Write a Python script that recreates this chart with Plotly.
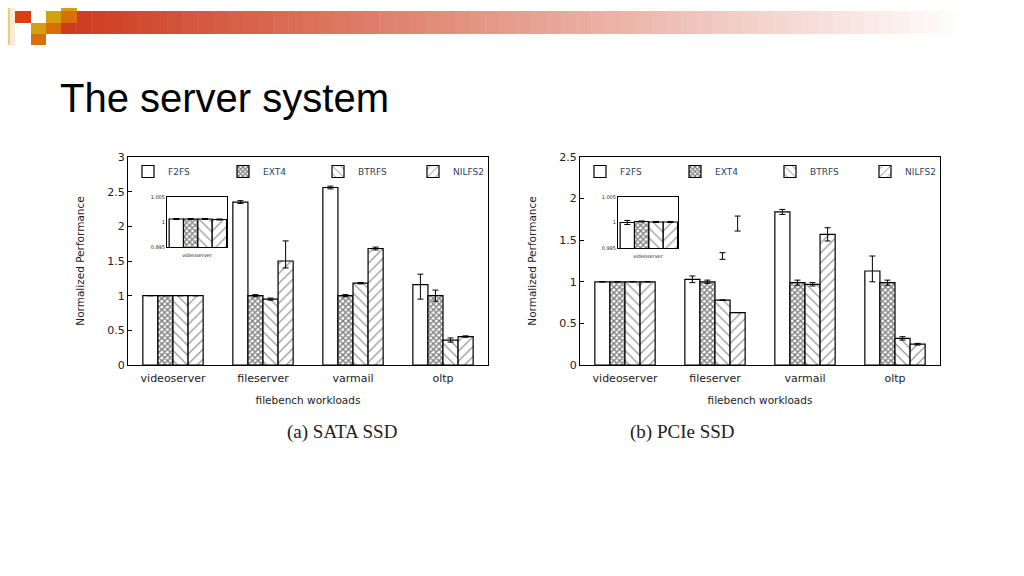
import plotly.graph_objects as go

systems = ["F2FS", "EXT4", "BTRFS", "NILFS2"]
workloads = ["videoserver", "fileserver", "varmail", "oltp"]

# SATA SSD
sata_vals = [[1.0, 2.35, 2.56, 1.16], [1.0, 1.0, 1.0, 1.0], [1.0, 0.95, 1.18, 0.36], [1.0, 1.50, 1.68, 0.41]]
sata_err_p = [[0, 0.02, 0.02, 0.15], [0, 0.015, 0.015, 0.08], [0, 0.015, 0.01, 0.03], [0, 0.29, 0.02, 0.01]]
sata_err_m = [[0, 0.02, 0.02, 0.21], [0, 0.015, 0.015, 0.08], [0, 0.015, 0.01, 0.03], [0, 0.10, 0.02, 0.01]]
# PCIe SSD
pcie_vals = [[1.0, 1.03, 1.84, 1.13], [1.0, 1.0, 0.99, 0.99], [1.0, 0.78, 0.97, 0.32], [1.0, 0.63, 1.57, 0.25]]
pcie_err_p = [[0, 0.04, 0.03, 0.18], [0, 0.02, 0.03, 0.03], [0, 0, 0.02, 0.02], [0, 0, 0.08, 0.01]]
pcie_err_m = [[0, 0.04, 0.03, 0.13], [0, 0.02, 0.03, 0.03], [0, 0, 0.02, 0.02], [0, 0, 0.08, 0.01]]
# floating error bars on PCIe fileserver (BTRFS, NILFS2)
pcie_float_sys = [2, 3]
pcie_float_val = [1.31, 1.70]
pcie_float_err = [0.04, 0.09]
# insets (videoserver zoom)
sata_inset = [1.0006, 1.0006, 1.0006, 1.0005]
sata_inset_err = [0.0001, 0.0001, 0.0001, 0.0001]
pcie_inset = [1.0, 1.0002, 1.0001, 1.0001]
pcie_inset_err = [0.0004, 0.0001, 0.0001, 0.0001]

patterns = ["", "x", "\\", "/"]
W = 0.1675
offs = [-2 * W + k * W for k in range(4)]

OFF = 8
FW, FH = 1024 - OFF, 576 - OFF
def px(x):
    return (x - OFF) / FW
def py(y):
    return 1 - (y - OFF) / FH

fig = go.Figure()

def bars(vals, ep, em, xa, ya, legend, show, x=None):
    for k, s in enumerate(systems):
        fig.add_trace(go.Bar(
            x=x if x is not None else list(range(len(vals[k]))), y=vals[k], name=s,
            width=W, offset=offs[k], xaxis=xa, yaxis=ya, legend=legend, showlegend=show,
            marker=dict(color="white", line=dict(color="black", width=1.2),
                        pattern=dict(shape=patterns[k], fgcolor="black", bgcolor="white",
                                     size=4 if k == 1 else 7, solidity=0.6 if k == 1 else 0.15)),
            error_y=dict(type="data", symmetric=False, array=ep[k], arrayminus=em[k],
                         color="black", thickness=1, width=3),
        ))

bars(sata_vals, sata_err_p, sata_err_m, "x", "y", "legend", True)
bars(pcie_vals, pcie_err_p, pcie_err_m, "x2", "y2", "legend2", True)
bars([[v] for v in sata_inset], [[e] for e in sata_inset_err], [[e] for e in sata_inset_err], "x3", "y3", "legend", False, x=[0])
bars([[v] for v in pcie_inset], [[e] for e in pcie_inset_err], [[e] for e in pcie_inset_err], "x4", "y4", "legend", False, x=[0])

fig.add_trace(go.Scatter(
    x=[1 + offs[k] + W / 2 for k in pcie_float_sys], y=pcie_float_val, mode="markers",
    marker=dict(size=1, color="rgba(0,0,0,0)"), showlegend=False, xaxis="x2", yaxis="y2",
    error_y=dict(type="data", array=pcie_float_err, color="black", thickness=1, width=3)))

ax = dict(showline=True, mirror=True, linecolor="black", linewidth=1, ticks="inside",
          tickcolor="black", ticklen=4, showgrid=False, zeroline=False, automargin=False,
          tickfont=dict(size=11, family="DejaVu Sans", color="#222"))
fx = dict(size=10.5, family="DejaVu Sans", color="#222")
fs = dict(size=5, family="DejaVu Sans", color="#222")

def yd(top, bot):
    return [py(bot), py(top)]

fig.update_layout(
    width=FW, height=FH, margin=dict(l=0, r=0, t=0, b=0, autoexpand=False),
    paper_bgcolor="white", plot_bgcolor="white", barmode="overlay",
    xaxis=dict(ax, anchor="y", domain=[px(128), px(488)], range=[-0.5, 3.5], tickvals=[0, 1, 2, 3], ticktext=workloads,
               title=dict(text="filebench workloads", font=fx, standoff=12), ticks="outside", ticklen=3, tickcolor="white"),
    yaxis=dict(ax, anchor="x", domain=yd(157, 365), range=[0, 3], dtick=0.5,
               title=dict(text="Normalized Performance", font=fx, standoff=20)),
    xaxis2=dict(ax, anchor="y2", domain=[px(580), px(940)], range=[-0.5, 3.5], tickvals=[0, 1, 2, 3], ticktext=workloads,
                title=dict(text="filebench workloads", font=fx, standoff=12), ticks="outside", ticklen=3, tickcolor="white"),
    yaxis2=dict(ax, anchor="x2", domain=yd(157, 365), range=[0, 2.5], dtick=0.5,
                title=dict(text="Normalized Performance", font=fx, standoff=20)),
    xaxis3=dict(ax, anchor="y3", domain=[px(167), px(227)], range=[-0.36, 0.34], showticklabels=False, ticks="",
                title=dict(text="videoserver", font=fs, standoff=6)),
    yaxis3=dict(ax, anchor="x3", domain=yd(197, 247), range=[0.995, 1.005], tickvals=[0.995, 1, 1.005],
                ticktext=["0.995", "1", "1.005"], tickfont=fs, ticks=""),
    xaxis4=dict(ax, anchor="y4", domain=[px(618), px(678)], range=[-0.36, 0.34], showticklabels=False, ticks="",
                title=dict(text="videoserver", font=fs, standoff=6)),
    yaxis4=dict(ax, anchor="x4", domain=yd(197, 248), range=[0.995, 1.005], tickvals=[0.995, 1, 1.005],
                ticktext=["0.995", "1", "1.005"], tickfont=fs, ticks=""),
    legend=dict(orientation="h", x=px(128), y=py(157), xanchor="left", yanchor="top",
                bgcolor="rgba(0,0,0,0)", font=dict(size=9, family="DejaVu Sans"),
                entrywidth=50, itemwidth=30, tracegroupgap=0),
    legend2=dict(orientation="h", x=px(580), y=py(157), xanchor="left", yanchor="top",
                 bgcolor="rgba(0,0,0,0)", font=dict(size=9, family="DejaVu Sans"),
                 entrywidth=50, itemwidth=30, tracegroupgap=0),
)

n = 60
x_start, x_end = 61, 970
step = (x_end - x_start) / n
for i in range(n):
    t = i / (n - 1)
    r = int(206 + (255 - 206) * t); g = int(60 + (255 - 60) * t); b = int(30 + (255 - 30) * t)
    fig.add_shape(type="rect", xref="paper", yref="paper", x0=px(x_start + i * step),
                  x1=px(x_start + (i + 1) * step + 0.5),
                  y0=py(34), y1=py(11), fillcolor=f"rgb({r},{g},{b})", line_width=0, layer="below")
for (x0, y0, x1, y1, c) in [(8, 8, 10, 45, "#e8cc80"), (10, 8, 15, 45, "#f6ecd6"),
                            (15, 11, 31, 23, "#d8400e"), (61, 8, 77, 11, "#d4a010"),
                            (46, 11, 61, 23, "#d4a010"), (61, 11, 77, 23, "#d8700a"),
                            (31, 23, 46, 34, "#d4a010"), (46, 23, 61, 34, "#d8700a"),
                            (31, 34, 46, 45, "#d8700a")]:
    fig.add_shape(type="rect", xref="paper", yref="paper", x0=px(x0), x1=px(x1),
                  y0=py(y1), y1=py(y0), fillcolor=c, line_width=0)

fig.add_annotation(text="The server system", xref="paper", yref="paper", x=px(58), y=py(98),
                   xanchor="left", yanchor="middle", showarrow=False,
                   font=dict(size=40, family="Liberation Sans", color="black"))
for txt, xc in [("(a) SATA SSD", 285), ("(b) PCIe SSD", 737)]:
    fig.add_annotation(text=txt, xref="paper", yref="paper", x=px(xc), y=py(445), showarrow=False,
                       font=dict(size=19, family="Liberation Serif", color="#222"))

fig.write_html("out.html")
